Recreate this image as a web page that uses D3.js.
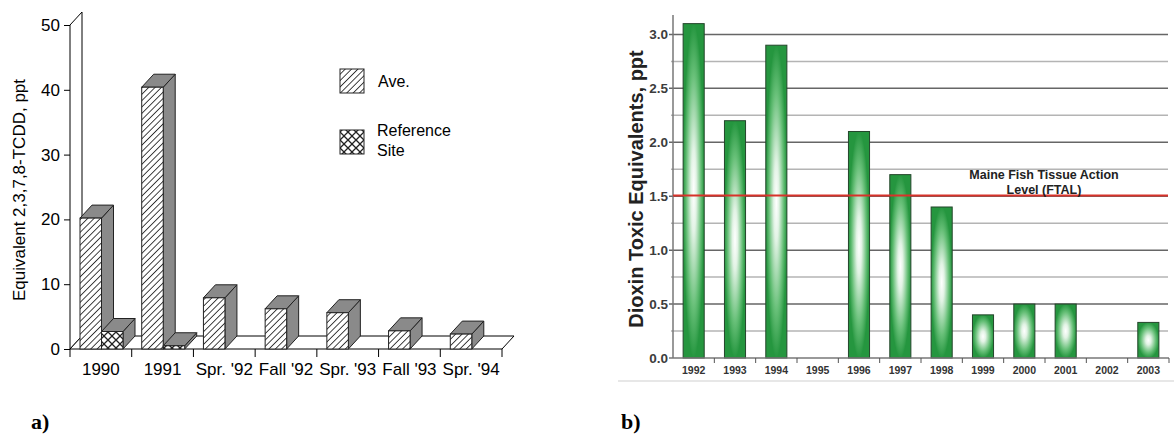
<!DOCTYPE html>
<html>
<head>
<meta charset="utf-8">
<script src="https://cdn.jsdelivr.net/npm/d3@7"></script>
<style>
  body { margin: 0; background: #fff; }
  svg { display: block; }
</style>
</head>
<body>
<svg width="1174" height="436"></svg>
<script>
/*------------------------
  ------ VARIABLES -------
  ------------------------*/

// chart a) data
var leftCats = ["1990", "1991", "Spr. '92", "Fall '92", "Spr. '93", "Fall '93", "Spr. '94"];
var aveValues = [20.2, 40.4, 7.9, 6.2, 5.6, 2.8, 2.3];
var refValues = [2.7, 0.5, null, null, null, null, null];
var leftTicks = [0, 10, 20, 30, 40, 50];
var leftSeries = ["Ave.", "Reference Site"];

// chart b) data
var rightYears = ["1992", "1993", "1994", "1995", "1996", "1997", "1998", "1999", "2000", "2001", "2002", "2003"];
var teqValues = [3.1, 2.2, 2.9, null, 2.1, 1.7, 1.4, 0.4, 0.5, 0.5, null, 0.33];
var rightTicks = [0, 0.5, 1.0, 1.5, 2.0, 2.5, 3.0];
var minorTicks = [0.25, 0.75, 1.25, 1.75, 2.25, 2.75];
var ftalLevel = 1.5;

// display settings
var depth = {dx: 12, dy: -13};
var sansFont = "Liberation Sans, Arial, sans-serif";

var svg = d3.select("svg");
var defs = svg.append("defs");

/*------------------------
  ------ PATTERNS --------
  ------------------------*/

// diagonal hatch for Ave.
var hatch = defs.append("pattern")
    .attr("id", "hatch")
    .attr("patternUnits", "userSpaceOnUse")
    .attr("width", 4.5).attr("height", 4.5)
    .attr("patternTransform", "rotate(45)");
hatch.append("rect").attr("width", 4.5).attr("height", 4.5).attr("fill", "#fff");
hatch.append("line").attr("x1", 0).attr("y1", 0).attr("x2", 0).attr("y2", 4.5)
    .attr("stroke", "#222").attr("stroke-width", 1.7);

// cross hatch for reference site
var cross = defs.append("pattern")
    .attr("id", "cross")
    .attr("patternUnits", "userSpaceOnUse")
    .attr("width", 8).attr("height", 8);
cross.append("rect").attr("width", 8).attr("height", 8).attr("fill", "#fff");
cross.append("path").attr("d", "M0,0L8,8M8,0L0,8")
    .attr("stroke", "#222").attr("stroke-width", 1.3);

// green bar gradient
var grad = defs.append("radialGradient")
    .attr("id", "greenbar")
    .attr("cx", 0.5).attr("cy", 0.5).attr("r", 0.5);
grad.append("stop").attr("offset", "0%").attr("stop-color", "#ffffff");
grad.append("stop").attr("offset", "25%").attr("stop-color", "#e2f3e5");
grad.append("stop").attr("offset", "70%").attr("stop-color", "#66bf77");
grad.append("stop").attr("offset", "100%").attr("stop-color", "#25963f");

/*------------------------
  ------ CHART A ---------
  ------------------------*/

var xa = d3.scaleBand().domain(leftCats).range([70, 502]);
var xs = d3.scaleBand().domain(leftSeries).range([10, 53]);
var ya = d3.scaleLinear().domain([0, 50]).range([349, 25]);

var ga = svg.append("g");

// back wall and floor
ga.append("path")
    .attr("d", "M70," + ya(0) + "L70," + ya(50) + "L" + (70 + depth.dx) + "," + (ya(50) + depth.dy) +
               "L" + (70 + depth.dx) + "," + (ya(0) + depth.dy) + "Z")
    .attr("fill", "#fff").attr("stroke", "#000").attr("stroke-width", 1);
ga.append("path")
    .attr("d", "M70," + ya(0) + "L" + (70 + depth.dx) + "," + (ya(0) + depth.dy) +
               "L" + (502 + depth.dx) + "," + (ya(0) + depth.dy) + "L502," + ya(0) + "Z")
    .attr("fill", "#fff").attr("stroke", "#000").attr("stroke-width", 1);

function draw_bar(g, x0, w, v, fill) {
    var x1 = x0 + w, yt = ya(v), yb = ya(0);
    var dx = depth.dx, dy = depth.dy;
    g.append("path")
        .attr("d", "M" + x1 + "," + yt + "L" + (x1 + dx) + "," + (yt + dy) + "L" + (x1 + dx) + "," + (yb + dy) + "L" + x1 + "," + yb + "Z")
        .attr("fill", "#8a8a8a").attr("stroke", "#222").attr("stroke-width", 1);
    g.append("path")
        .attr("d", "M" + x0 + "," + yt + "L" + (x0 + dx) + "," + (yt + dy) + "L" + (x1 + dx) + "," + (yt + dy) + "L" + x1 + "," + yt + "Z")
        .attr("fill", "#8a8a8a").attr("stroke", "#222").attr("stroke-width", 1);
    g.append("rect")
        .attr("x", x0).attr("y", yt).attr("width", w).attr("height", yb - yt)
        .attr("fill", fill).attr("stroke", "#222").attr("stroke-width", 1);
}

leftCats.forEach(function(c, i) {
    draw_bar(ga, xa(c) + xs("Ave."), xs.bandwidth(), aveValues[i], "url(#hatch)");
    if (refValues[i] != null) {
        draw_bar(ga, xa(c) + xs("Reference Site"), xs.bandwidth(), refValues[i], "url(#cross)");
    }
});

// y axis
var yAxisA = ga.append("g").attr("transform", "translate(70,0)")
    .call(d3.axisLeft(ya).tickValues(leftTicks).tickSize(6).tickSizeOuter(0));
yAxisA.select(".domain").remove();
yAxisA.selectAll("line").attr("stroke", "#000");
yAxisA.selectAll("text").attr("font-family", sansFont).attr("font-size", 17).attr("fill", "#000").attr("x", -10);

// x axis
var xAxisA = ga.append("g").attr("transform", "translate(0," + ya(0) + ")")
    .call(d3.axisBottom(xa).tickSize(0));
xAxisA.select(".domain").remove();
xAxisA.selectAll("text").attr("font-family", sansFont).attr("font-size", 17).attr("fill", "#000").attr("dy", "1.35em");
ga.selectAll(".xtickA")
    .data(leftCats.concat(["end"]))
    .enter()
    .append("line")
    .attr("x1", function(d, i) { return i < leftCats.length ? xa(d) : xa.range()[1]; })
    .attr("x2", function(d, i) { return i < leftCats.length ? xa(d) : xa.range()[1]; })
    .attr("y1", ya(0)).attr("y2", ya(0) + 8)
    .attr("stroke", "#000");

ga.append("text")
    .attr("transform", "translate(25,190) rotate(-90)")
    .attr("text-anchor", "middle")
    .attr("font-family", sansFont).attr("font-size", 17)
    .text("Equivalent 2,3,7,8-TCDD, ppt");

// legend
var legA = ga.append("g");
legA.append("rect").attr("x", 340).attr("y", 69).attr("width", 24).attr("height", 24)
    .attr("fill", "url(#hatch)").attr("stroke", "#222");
legA.append("text").attr("x", 378).attr("y", 87).attr("font-family", sansFont).attr("font-size", 16).text("Ave.");
legA.append("rect").attr("x", 340).attr("y", 130).attr("width", 24).attr("height", 24)
    .attr("fill", "url(#cross)").attr("stroke", "#222");
legA.append("text").attr("x", 377).attr("y", 136).attr("font-family", sansFont).attr("font-size", 16).text("Reference");
legA.append("text").attr("x", 377).attr("y", 156).attr("font-family", sansFont).attr("font-size", 16).text("Site");

svg.append("text").attr("x", 31).attr("y", 429)
    .attr("font-family", "Liberation Serif, serif").attr("font-weight", "bold").attr("font-size", 22)
    .text("a)");

/*------------------------
  ------ CHART B ---------
  ------------------------*/

var xb = d3.scaleBand().domain(rightYears).range([673, 1169]).paddingInner(0.49).paddingOuter(0.245);
var yb = d3.scaleLinear().domain([0, 3.18]).range([358, 15]);

var gb = svg.append("g");

// frame bottom line
gb.append("line").attr("x1", 618).attr("x2", 1174).attr("y1", 381).attr("y2", 381)
    .attr("stroke", "#d0d0d0").attr("stroke-width", 1.2);

// grid lines
gb.selectAll(".minor")
    .data(minorTicks)
    .enter()
    .append("line")
    .attr("x1", 671).attr("x2", 1168)
    .attr("y1", yb).attr("y2", yb)
    .attr("stroke", "#b4b4b4").attr("stroke-width", 1.5);
gb.selectAll(".major")
    .data(rightTicks.slice(1))
    .enter()
    .append("line")
    .attr("x1", 669).attr("x2", 1168)
    .attr("y1", yb).attr("y2", yb)
    .attr("stroke", "#666").attr("stroke-width", 1.5);

// bars
gb.selectAll(".bar")
    .data(rightYears.filter(function(d, i) { return teqValues[i] != null; }))
    .enter()
    .append("rect")
    .attr("x", function(d) { return xb(d); })
    .attr("y", function(d) { return yb(teqValues[rightYears.indexOf(d)]); })
    .attr("width", xb.bandwidth())
    .attr("height", function(d) { return yb(0) - yb(teqValues[rightYears.indexOf(d)]); })
    .attr("fill", "url(#greenbar)")
    .attr("stroke", "#24452b").attr("stroke-width", 1);

// axes
gb.append("line").attr("x1", 673).attr("x2", 673).attr("y1", 15).attr("y2", yb(0))
    .attr("stroke", "#777").attr("stroke-width", 1.5);
gb.append("line").attr("x1", 669).attr("x2", 1169).attr("y1", yb(0)).attr("y2", yb(0))
    .attr("stroke", "#777").attr("stroke-width", 1.5);

var yAxisB = gb.append("g").attr("transform", "translate(673,0)")
    .call(d3.axisLeft(yb).tickValues(rightTicks).tickFormat(d3.format(".1f")).tickSize(0));
yAxisB.select(".domain").remove();
yAxisB.selectAll("text").attr("font-family", sansFont).attr("font-weight", "bold")
    .attr("font-size", 13.5).attr("fill", "#3c3c3c").attr("x", -5);

var xAxisB = gb.append("g").attr("transform", "translate(0," + yb(0) + ")")
    .call(d3.axisBottom(xb).tickSize(0));
xAxisB.select(".domain").remove();
xAxisB.selectAll("text").attr("font-family", sansFont).attr("font-weight", "bold")
    .attr("font-size", 10.5).attr("fill", "#333").attr("dy", "1.25em");

// small tick marks between years
gb.selectAll(".xtickB")
    .data(rightYears.slice(1).concat(["end"]))
    .enter()
    .append("line")
    .attr("x1", function(d, i) { return xb.range()[0] + (i + 1) * xb.step(); })
    .attr("x2", function(d, i) { return xb.range()[0] + (i + 1) * xb.step(); })
    .attr("y1", yb(0)).attr("y2", yb(0) + 5)
    .attr("stroke", "#555").attr("stroke-width", 1);

gb.append("text")
    .attr("transform", "translate(643,189) rotate(-90)")
    .attr("text-anchor", "middle")
    .attr("font-family", sansFont).attr("font-weight", "bold").attr("font-size", 20)
    .attr("fill", "#222")
    .text("Dioxin Toxic Equivalents, ppt");

// FTAL line
gb.append("line").attr("x1", 673).attr("x2", 1168)
    .attr("y1", yb(ftalLevel) - 0.8).attr("y2", yb(ftalLevel) - 0.8)
    .attr("stroke", "#d8322a").attr("stroke-width", 2);
gb.append("text").attr("x", 1044).attr("y", 178.5).attr("text-anchor", "middle")
    .attr("font-family", sansFont).attr("font-weight", "bold").attr("font-size", 12.5).attr("fill", "#222")
    .text("Maine Fish Tissue Action");
gb.append("text").attr("x", 1044).attr("y", 193.5).attr("text-anchor", "middle")
    .attr("font-family", sansFont).attr("font-weight", "bold").attr("font-size", 12.5).attr("fill", "#222")
    .text("Level (FTAL)");

svg.append("text").attr("x", 621).attr("y", 429)
    .attr("font-family", "Liberation Serif, serif").attr("font-weight", "bold").attr("font-size", 22)
    .text("b)");
</script>
</body>
</html>
